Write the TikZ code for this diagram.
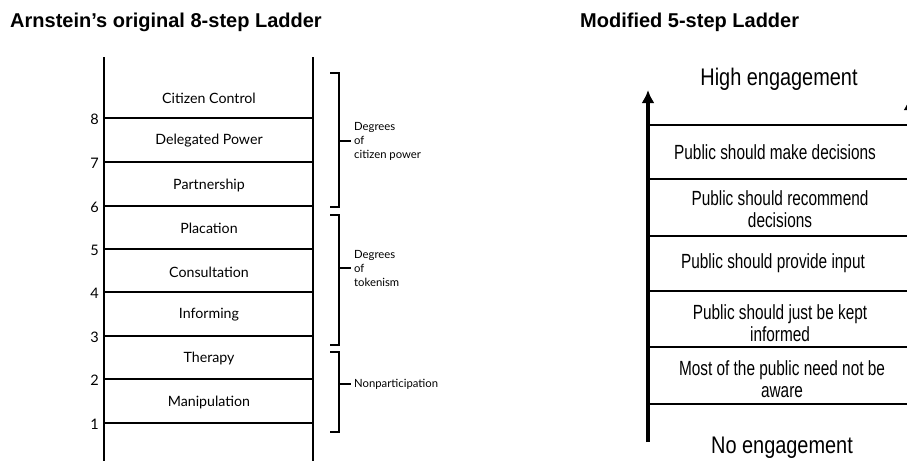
\documentclass[tikz,border=0pt]{standalone}
\usepackage{fontspec}
\setmainfont{Liberation Sans}
\newfontfamily\stepfont{Lato}
\newfontfamily\pubfont[FakeStretch=0.75]{Liberation Sans}
\newfontfamily\engfont[FakeStretch=0.83]{Liberation Sans}
\usetikzlibrary{arrows.meta,positioning}

\begin{document}
\begin{tikzpicture}[x=1pt,y=-1pt,
  title/.style={font=\bfseries\fontsize{20}{24}\selectfont,anchor=base west,inner sep=0pt},
  rail/.style={line width=2.2pt},
  rung/.style={line width=1.9pt},
  steptext/.style={font=\stepfont\fontsize{14.2}{16}\selectfont},
  num/.style={font=\stepfont\fontsize{14.5}{16}\selectfont,anchor=east,inner sep=0pt},
  bracket/.style={line width=1.9pt},
  bracetext/.style={font=\stepfont\fontsize{11.3}{14}\selectfont,align=left,anchor=west,inner sep=0pt},
  arail/.style={line width=3.5pt,-{Latex[length=13pt,width=13pt]}},
  arung/.style={line width=1.5pt},
  pubtext/.style={font=\pubfont\fontsize{20.5}{22.5}\selectfont,align=center},
  engage/.style={font=\engfont\fontsize{24}{26}\selectfont}]
\useasboundingbox (0,0) rectangle (907,464);

% titles
\node[title] (t1) at (10,27) {Arnstein’s original 8-step Ladder};
\node[title] (t2) at (580,27) {Modified 5-step Ladder};

% Arnstein's ladder
\draw[rail] (104,57) -- (104,461);
\draw[rail] (313,57) -- (313,461);
\foreach \n/\y in {1/423,2/379,3/336,4/292,5/249,6/206,7/162,8/118}
  {\draw[rung] (104,\y) -- (313,\y);
   \node[num] at (99,\y+1) {\n};}

\node[steptext] (s8) at (209,98)  {Citizen Control};
\node[steptext] (s7) at (209,141) {Delegated Power};
\node[steptext] (s6) at (209,185) {Partnership};
\node[steptext] (s5) at (209,228) {Placation};
\node[steptext] (s4) at (209,272) {Consultation};
\node[steptext] (s3) at (209,315) {Informing};
\node[steptext] (s2) at (209,358) {Therapy};
\node[steptext] (s1) at (209,402) {Manipulation};

% brackets
\draw[bracket] (330,73) -| (339,207) -- (330,207);
\draw[bracket] (339,141) -- (351,141) coordinate (b1);
\node[bracetext,right=3pt of b1] {Degrees\\of\\citizen power};

\draw[bracket] (330,215) -| (339,345) -- (330,345);
\draw[bracket] (339,268) -- (351,268) coordinate (b2);
\node[bracetext,right=3pt of b2] {Degrees\\of\\tokenism};

\draw[bracket] (330,352) -| (339,432) -- (330,432);
\draw[bracket] (339,384) -- (351,384) coordinate (b3);
\node[bracetext,right=3pt of b3] {Nonparticipation};

% modified ladder
\draw[arail] (648,442) -- (648,90);
\draw[arail] (910,442) -- (910,97);
\foreach \y in {125,179,236,291,347,404}
  \draw[arung] (648,\y) -- (910,\y);

\node[engage] (hi) at (779,79) {High engagement};
\node[pubtext] (p5) at (775,152) {Public should make decisions};
\node[pubtext] (p4) at (780,209) {Public should recommend\\decisions};
\node[pubtext] (p3) at (773,263) {Public should provide input};
\node[pubtext] (p2) at (780,323) {Public should just be kept\\informed};
\node[pubtext] (p1) at (782,379) {Most of the public need not be\\aware};
\node[engage] (lo) at (782,448) {No engagement};
\end{tikzpicture}
\end{document}
